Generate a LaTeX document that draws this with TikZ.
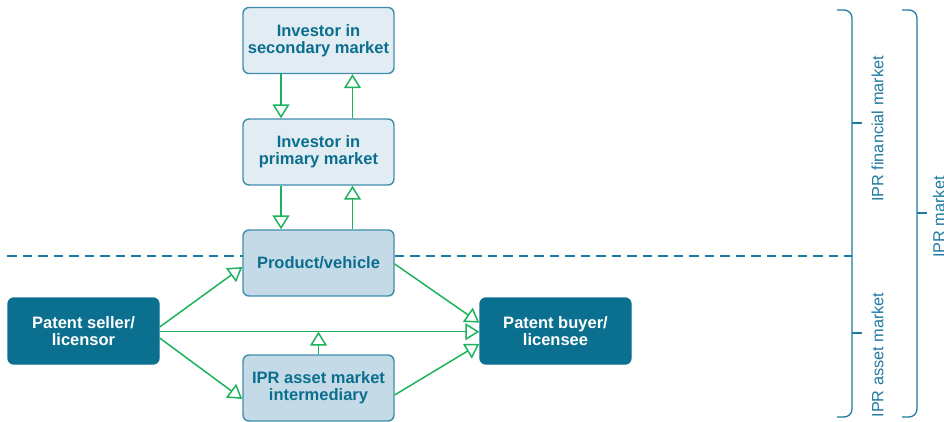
\documentclass[tikz,border=0pt]{standalone}
\usepackage{fontspec}
\setmainfont{Liberation Sans}
\usetikzlibrary{arrows.meta,calc}

\definecolor{tealtext}{HTML}{0B6E8E}
\definecolor{tealdark}{HTML}{0B7090}
\definecolor{boxlight}{HTML}{E1ECF3}
\definecolor{boxmid}{HTML}{C4DBE7}
\definecolor{boxedge}{HTML}{3F8DAD}
\definecolor{flowgreen}{HTML}{1DB35C}
\definecolor{bracketcol}{HTML}{1F7AA3}

\tikzset{
  actor/.style={rectangle, rounded corners=6pt, minimum width=151pt,
    minimum height=66pt, inner sep=0pt, line width=1.4pt, align=center,
    font=\fontsize{16.5}{17}\selectfont\bfseries},
  lightbox/.style={actor, draw=boxedge, fill=boxlight, text=tealtext},
  midbox/.style={actor, draw=boxedge, fill=boxmid, text=tealtext},
  darkbox/.style={actor, draw=tealdark, fill=tealdark, text=white},
  flow/.style={draw=flowgreen, line width=1.5pt,
    -{Triangle[open, length=14pt, width=17pt]}},
  bracketline/.style={draw=bracketcol, line width=1.3pt},
  sidelabel/.style={rotate=90, anchor=base, text=bracketcol,
    font=\fontsize{16.3}{18}\selectfont}
}

\begin{document}
\begin{tikzpicture}[x=1pt, y=-1pt]
  \useasboundingbox (0,0) rectangle (944,422);

  % boundary between financial and asset market
  \draw[draw=bracketcol, line width=1.3pt, dash pattern=on 9.5pt off 6pt]
    (7,256) -- (852,256);

  % actors
  \node[lightbox] (sec)    at (318.5, 40.5) {Investor in\\secondary market};
  \node[lightbox] (pri)    at (318.5, 152)  {Investor in\\primary market};
  \node[midbox]   (prod)   at (318.5, 263)  {Product/vehicle};
  \node[midbox]   (inter)  at (318.5, 388)  {IPR asset market\\intermediary};
  \node[darkbox]  (seller) at (83.5, 331)   {Patent seller/\\licensor};
  \node[darkbox]  (buyer)  at (555.5, 331)  {Patent buyer/\\licensee};

  % investor flows
  \draw[flow] ([xshift=-37.5pt]sec.south)  -- ([xshift=-37.5pt]pri.north);
  \draw[flow] ([xshift=34pt]pri.north)     -- ([xshift=34pt]sec.south);
  \draw[flow] ([xshift=-37.5pt]pri.south)  -- ([xshift=-37.5pt]prod.north);
  \draw[flow] ([xshift=34pt]prod.north)    -- ([xshift=34pt]pri.south);

  % asset market flows
  \draw[flow] ([yshift=4pt]seller.east)  -- ([yshift=-4pt]prod.west);
  \draw[flow] ([yshift=-7pt]seller.east) -- ([yshift=-11pt]inter.west);
  \draw[flow] ([yshift=-0.7pt]seller.east) -- ([yshift=-0.7pt]buyer.west);
  \coordinate (join) at ($(inter.north |- seller.east)+(0,0.7)$);
  \draw[flow] (inter.north) -- (join);
  \draw[flow] ([yshift=-1pt]prod.east)  -- ([yshift=8.3pt]buyer.west);
  \draw[flow] ([yshift=-7pt]inter.east) -- ([yshift=-13pt]buyer.west);

  % market brackets
  \draw[bracketline, rounded corners=8pt] (837,10) -- (852,10) -- (852,417) -- (837,417);
  \draw[bracketline] (852,123) -- (862,123);
  \draw[bracketline] (852,333) -- (862,333);
  \draw[bracketline, rounded corners=8pt] (902,10) -- (917,10) -- (917,417) -- (902,417);
  \draw[bracketline] (917,213) -- (927,213);

  \node[sidelabel] (finlab) at (883.3,129) {IPR financial market};
  \node[sidelabel] (astlab) at (883.3,355) {IPR asset market};
  \node[sidelabel] (mktlab) at (944.5,217) {IPR market};
\end{tikzpicture}
\end{document}
